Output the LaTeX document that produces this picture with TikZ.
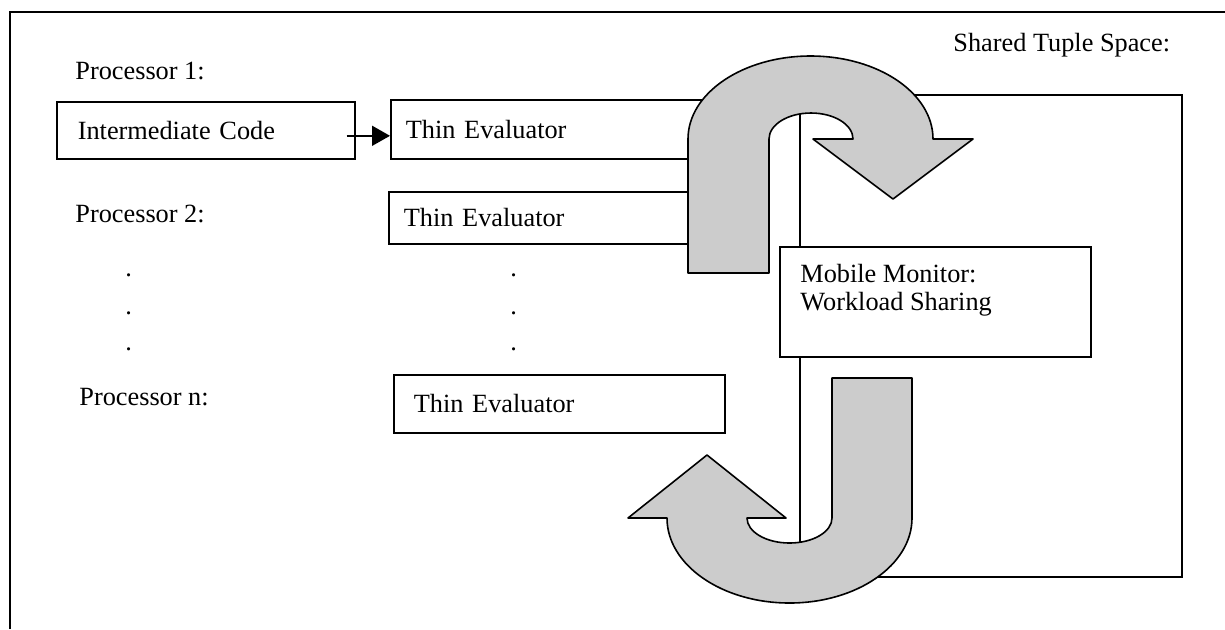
\documentclass[tikz,border=0pt]{standalone}
\usepackage{fontspec}
\setmainfont{Liberation Serif}
\usetikzlibrary{arrows.meta}
\definecolor{arrowgray}{gray}{0.8}
\tikzset{
  box/.style={draw, line width=0.8pt, fill=white, anchor=north west, inner ysep=0pt, align=left},
  lbl/.style={anchor=base west, inner sep=0pt},
  bigarrow/.style={draw, line width=0.8pt, fill=arrowgray, line join=round}
}

\begin{document}
\begin{tikzpicture}[x=0.5pt, y=-0.5pt, font=\fontsize{13.15}{14}\selectfont]
  \useasboundingbox (0,0) rectangle (1225,629);
  \draw[line width=1pt] (10,629) |- (1225,12);
  % tuple space
  \node[box, minimum width=191pt, minimum height=241pt] (tuple) at (799,94) {};
  \node[lbl] (tlbl) at (953,51) {Shared Tuple Space:};
  % processors
  \node[lbl] (p1) at (75,79) {Processor 1:};
  \node[lbl] (p2) at (75,222) {Processor 2:};
  \node[lbl] (pn) at (79,405) {Processor n:};
  \foreach \y in {276,314,350} {
    \node[lbl] (dl\y) at (125,\y) {.};
    \node[lbl] (dr\y) at (510,\y) {.};
  }
  \node[box, inner xsep=10.5pt, text width=128pt, minimum height=28.5pt] (ic) at (56,101) {Intermediate Code};
  \node[box, inner xsep=7.5pt, text width=151pt, minimum height=29.5pt] (te1) at (390,99) {Thin Evaluator};
  \node[box, inner xsep=7.5pt, text width=151pt, minimum height=26pt] (te2) at (388,191) {Thin Evaluator};
  \node[box, inner xsep=10pt, text width=145.5pt, minimum height=29pt] (ten) at (393,374) {Thin Evaluator};
  \draw[-{Triangle[length=9pt,width=10pt]}, line width=0.8pt, shorten <=-4.5pt]
    ([yshift=-2.75pt]ic.east) -- ([yshift=-2.75pt]ic.east -| te1.west);
  % monitor
  \node[box, minimum width=155.5pt, minimum height=55pt] (mm) at (779,246) {};
  \node[anchor=north west, inner sep=0pt, align=left] (mmtxt) at (800,264) {Mobile Monitor:\\Workload Sharing};
  % block arrows
  \path[bigarrow] (688,273) -- (688,139)
    arc[start angle=180, end angle=360, x radius=122.5, y radius=83]
    -- (973,139) -- (893,199) -- (813,139) -- (853,139)
    arc[start angle=360, end angle=180, x radius=42, y radius=26]
    -- (769,273) -- cycle;
  \path[bigarrow] (832,378) -- (912,378) -- (912,518)
    arc[start angle=0, end angle=180, x radius=122.5, y radius=85]
    -- (628,518) -- (707,455) -- (786,518) -- (747,518)
    arc[start angle=180, end angle=0, x radius=42.5, y radius=25]
    -- cycle;
\end{tikzpicture}
\end{document}
